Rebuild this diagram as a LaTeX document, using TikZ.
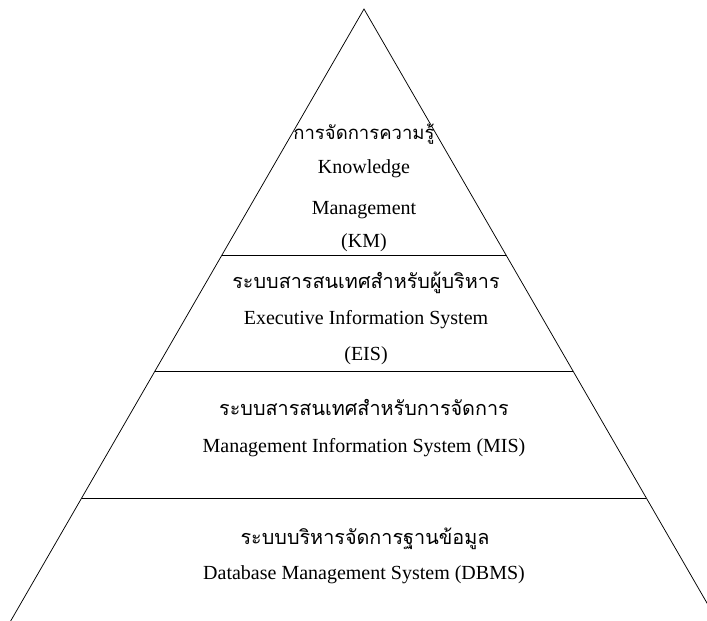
\documentclass[tikz,border=0pt]{standalone}
\usepackage{fontspec}
\setmainfont{Liberation Serif}
\newfontfamily\thaifont[Script=Thai]{Loma}
\usetikzlibrary{calc}
\begin{document}
\begin{tikzpicture}[x=1pt,y=-1pt,
  en/.style={font=\fontsize{20}{24}\selectfont, anchor=base, inner sep=0pt},
  th/.style={font=\thaifont\fontsize{19.8}{23}\selectfont, anchor=base, inner sep=0pt},
  thsmall/.style={font=\thaifont\fontsize{18.5}{22}\selectfont, anchor=base, inner sep=0pt},
  tier/.style={line width=0.75pt, draw=black}]
\useasboundingbox (0,0) rectangle (707,621);
\clip (0,0) rectangle (707,621);
\fill[white] (0,0) rectangle (707,621);
\coordinate (apex) at (364,9);
\coordinate (bl) at (9.5,623);
\coordinate (br) at (718.5,623);
\draw[tier] (bl) -- (apex) -- (br) -- cycle;
\draw[tier] ($(apex)!0.4007!(bl)$) coordinate (l1) -- ($(apex)!0.4007!(br)$) coordinate (r1);
\draw[tier] ($(apex)!0.5896!(bl)$) coordinate (l2) -- ($(apex)!0.5896!(br)$) coordinate (r2);
\draw[tier] ($(apex)!0.7964!(bl)$) coordinate (l3) -- ($(apex)!0.7964!(br)$) coordinate (r3);
% KM
\node[thsmall] (kmth) at (364,139) {การจัดการความรู้};
\node[en] (kmen1) at (364,173) {Knowledge};
\node[en] (kmen2) at (364,214) {Management};
\node[en] (kmab) at (364,247) {(KM)};
% EIS
\node[th] (eisth) at (366,288) {ระบบสารสนเทศสำหรับผู้บริหาร};
\node[en] (eisen) at (366,324) {Executive Information System};
\node[en] (eisab) at (366,360) {(EIS)};
% MIS
\node[th] (misth) at (364,415) {ระบบสารสนเทศสำหรับการจัดการ};
\node[en] (misen) at (364,452) {Management Information System (MIS)};
% DBMS
\node[th] (dbth) at (365,544) {ระบบบริหารจัดการฐานข้อมูล};
\node[en] (dben) at (364,579) {Database Management System (DBMS)};
\end{tikzpicture}
\end{document}
